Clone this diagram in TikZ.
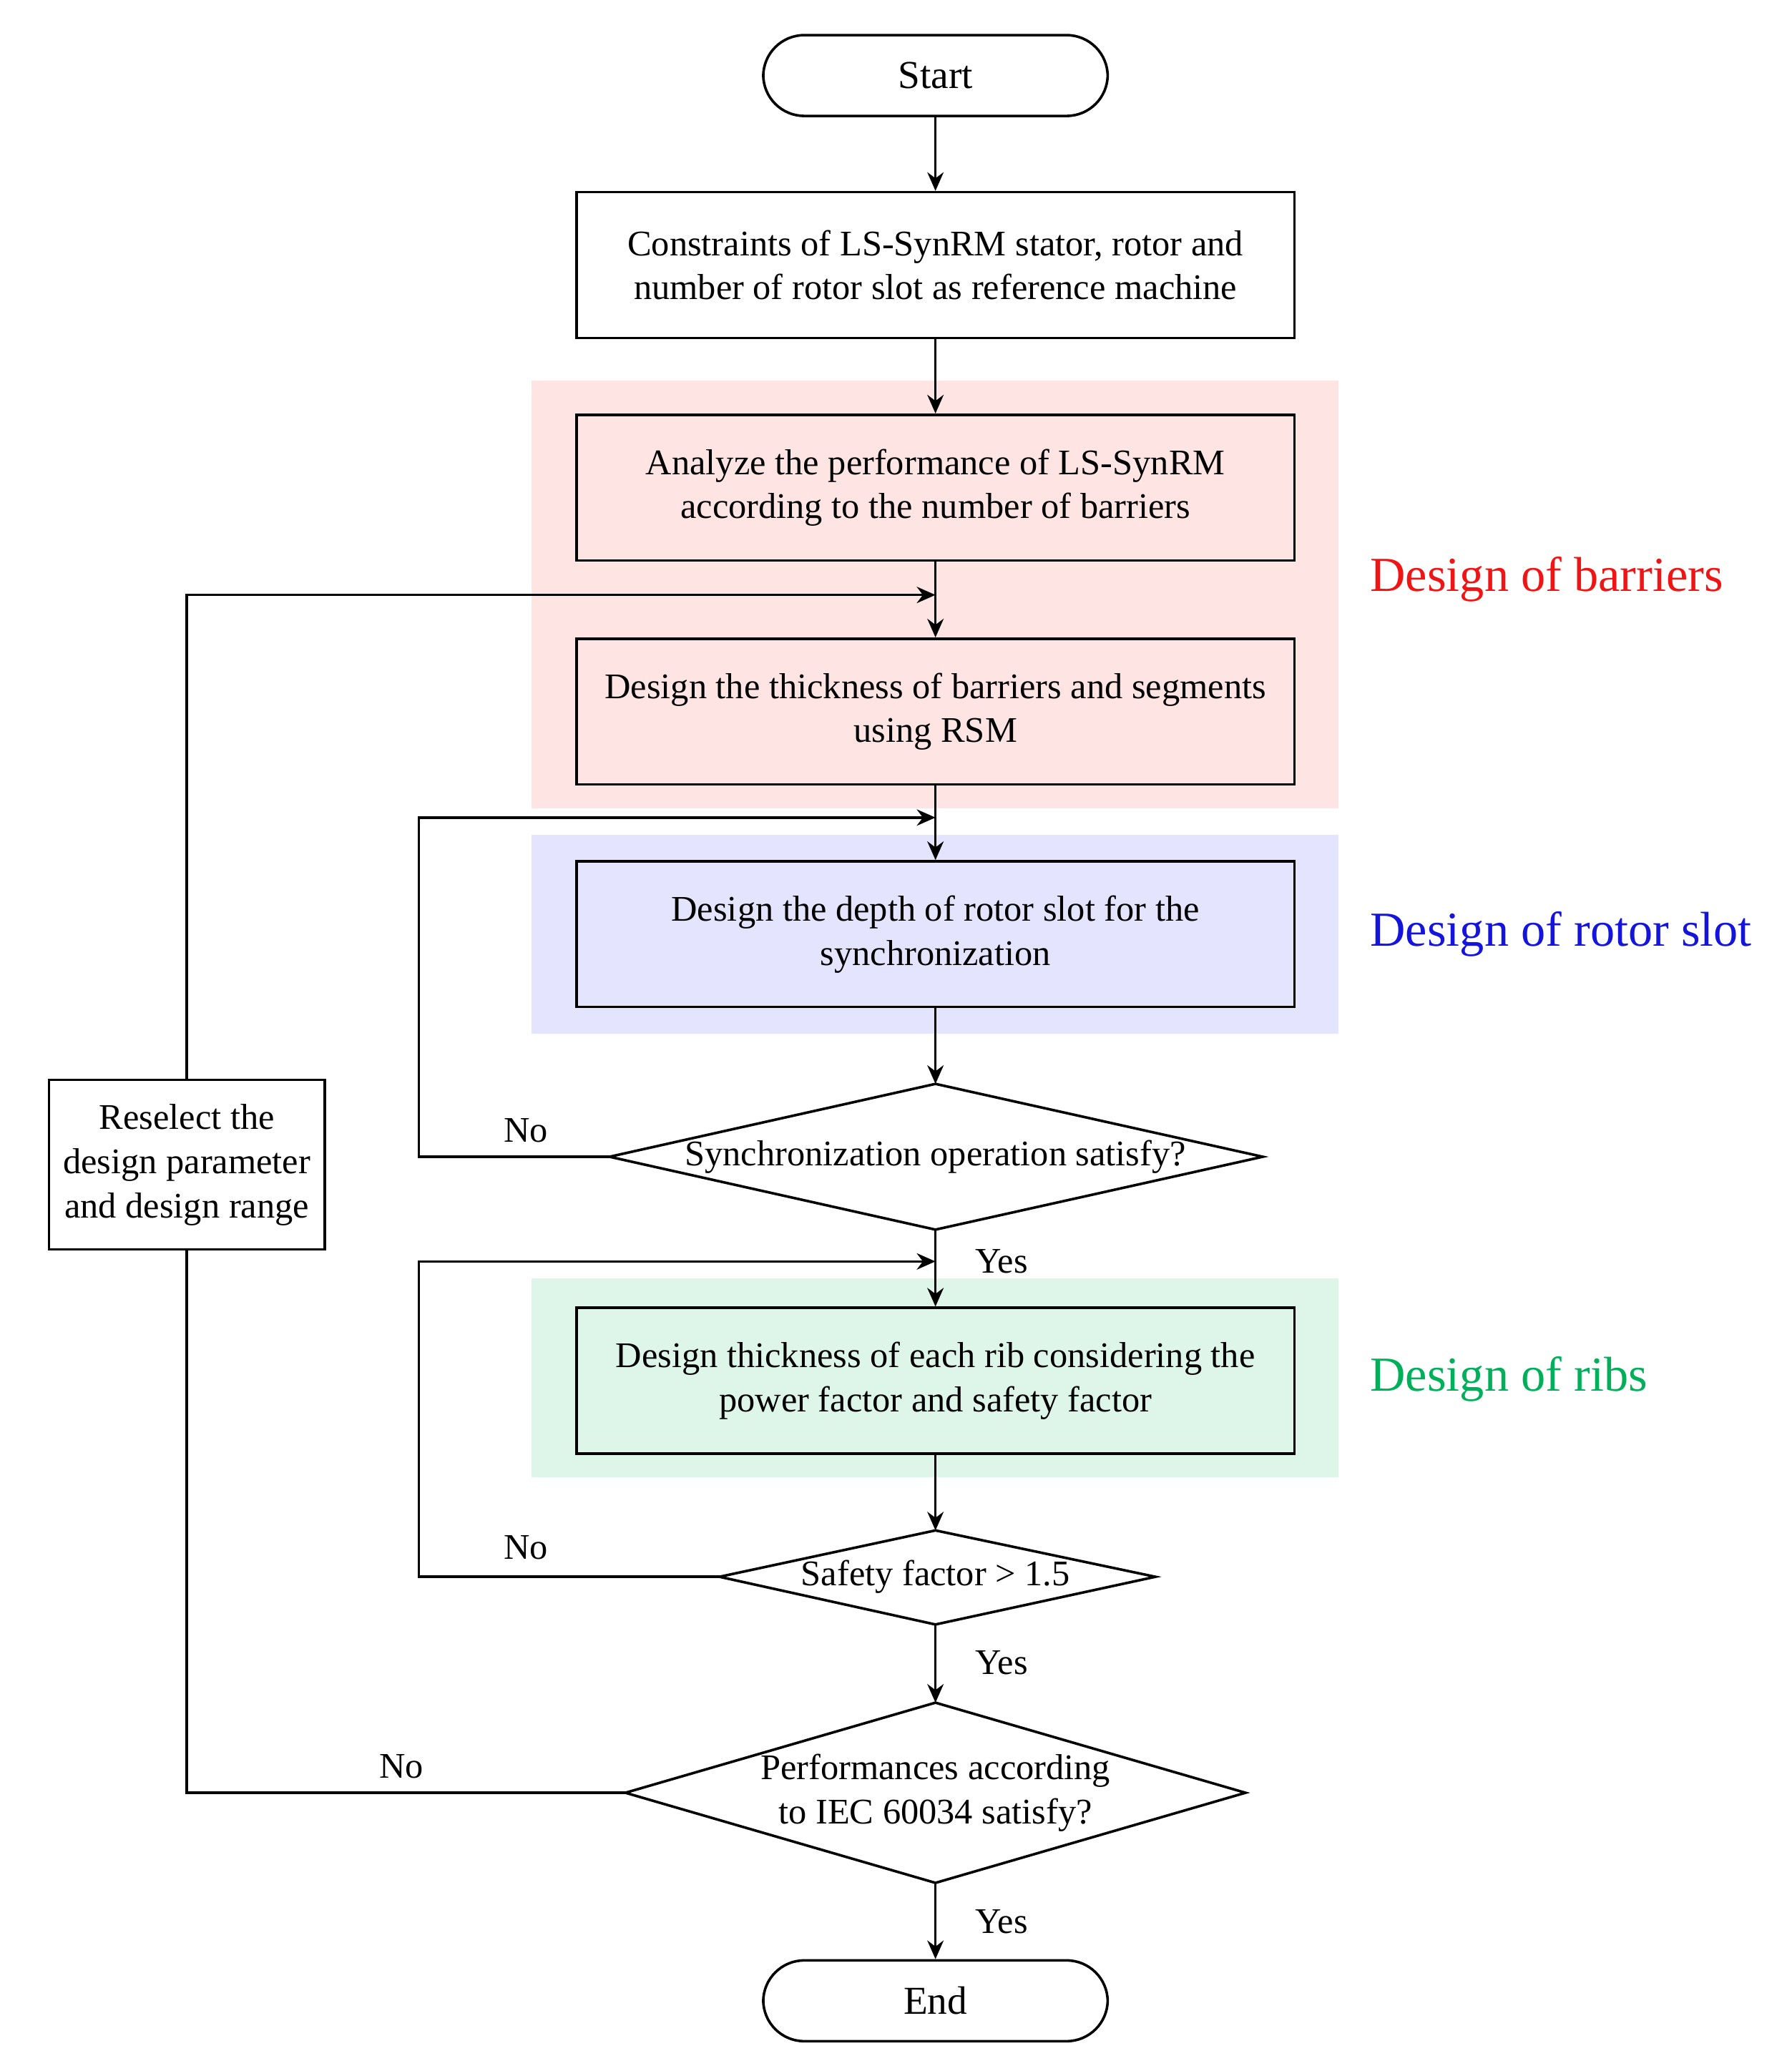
\documentclass[tikz,border=0pt]{standalone}
\usepackage{fontspec}
\setmainfont{Liberation Serif}
\usetikzlibrary{arrows.meta}
\definecolor{pinkbg}{RGB}{255,228,228}
\definecolor{bluebg}{RGB}{228,228,255}
\definecolor{greenbg}{RGB}{222,245,234}
\definecolor{lblred}{RGB}{240,20,20}
\definecolor{lblblue}{RGB}{20,20,220}
\definecolor{lblgreen}{RGB}{0,175,90}
\begin{document}
\begin{tikzpicture}[x=0.02cm,y=-0.02cm,
  font=\fontsize{15.5}{19}\selectfont,
  box/.style={draw,line width=1.1pt,minimum width=10.84cm,minimum height=2.2cm,align=center},
  term/.style={draw,line width=1.1pt,rounded corners=0.62cm,minimum width=5.2cm,minimum height=1.22cm,font=\fontsize{17}{20}\selectfont},
  ln/.style={line width=1.1pt},
  arr/.style={line width=1.1pt,-{Stealth[length=8pt,width=7pt]}},
  bigl/.style={anchor=west,font=\fontsize{21}{25}\selectfont},
  small/.style={font=\fontsize{15.5}{19}\selectfont}]
\useasboundingbox (0,0) rectangle (1352,1563);
\fill[pinkbg] (401,287) rectangle (1010,610);
\fill[bluebg] (401,630) rectangle (1010,780);
\fill[greenbg] (401,965) rectangle (1010,1115);
\node[term] (start) at (706,57) {Start};
\node[box] (b1) at (706,200) {Constraints of LS-SynRM stator, rotor and\\number of rotor slot as reference machine};
\node[box] (b2) at (706,368) {Analyze the performance of LS-SynRM\\according to the number of barriers};
\node[box] (b3) at (706,537) {Design the thickness of barriers and segments\\using RSM};
\node[box] (b4) at (706,705) {Design the depth of rotor slot for the\\synchronization};
\node[box] (b5) at (706,1042) {Design thickness of each rib considering the\\power factor and safety factor};
\node[term] (end) at (706,1510) {End};
\node[draw,line width=1.1pt,minimum width=4.16cm,minimum height=2.56cm,align=center] (re) at (141,879) {Reselect the\\design parameter\\and design range};
% diamonds
\coordinate (d1l) at (460,873); \coordinate (d1t) at (706,818); \coordinate (d1r) at (953,873); \coordinate (d1b) at (706,928);
\draw[ln] (d1l)--(d1t)--(d1r)--(d1b)--cycle;
\node (d1) at (706,873) {Synchronization operation satisfy?};
\coordinate (d2l) at (543,1190); \coordinate (d2t) at (706,1155); \coordinate (d2r) at (872,1190); \coordinate (d2b) at (706,1226);
\draw[ln] (d2l)--(d2t)--(d2r)--(d2b)--cycle;
\node (d2) at (706,1190) {Safety factor > 1.5};
\coordinate (d3l) at (472,1353); \coordinate (d3t) at (706,1285); \coordinate (d3r) at (940,1353); \coordinate (d3b) at (706,1421);
\draw[ln] (d3l)--(d3t)--(d3r)--(d3b)--cycle;
\node[align=center] (d3) at (706,1353) {Performances according\\to IEC 60034 satisfy?};
% main flow
\draw[arr] (start) -- (b1);
\draw[arr] (b1) -- (b2);
\draw[arr] (b2) -- (b3);
\draw[arr] (b3) -- (b4);
\draw[arr] (b4) -- (d1t);
\draw[arr] (d1b) -- (b5);
\draw[arr] (b5) -- (d2t);
\draw[arr] (d2b) -- (d3t);
\draw[arr] (d3b) -- (end);
% loops
\coordinate (j1) at (706,449); \coordinate (j2) at (706,617); \coordinate (j3) at (706,952);
\draw[arr] (d1l) -- (316,873) -- (316,617) -- (j2);
\draw[arr] (d2l) -- (316,1190) -- (316,952) -- (j3);
\draw[ln] (d3l) -- (141,1353) -- (re.south);
\draw[arr] (re.north) -- (141,449) -- (j1);
% labels
\node[small] at (397,853) {No};
\node[small] at (397,1168) {No};
\node[small] at (303,1333) {No};
\node[small] at (756,952) {Yes};
\node[small] at (756,1255) {Yes};
\node[small] at (756,1450) {Yes};
\node[bigl,text=lblred] at (1028,437) {Design of barriers};
\node[bigl,text=lblblue] at (1028,705) {Design of rotor slot};
\node[bigl,text=lblgreen] at (1028,1041) {Design of ribs};
\end{tikzpicture}
\end{document}
